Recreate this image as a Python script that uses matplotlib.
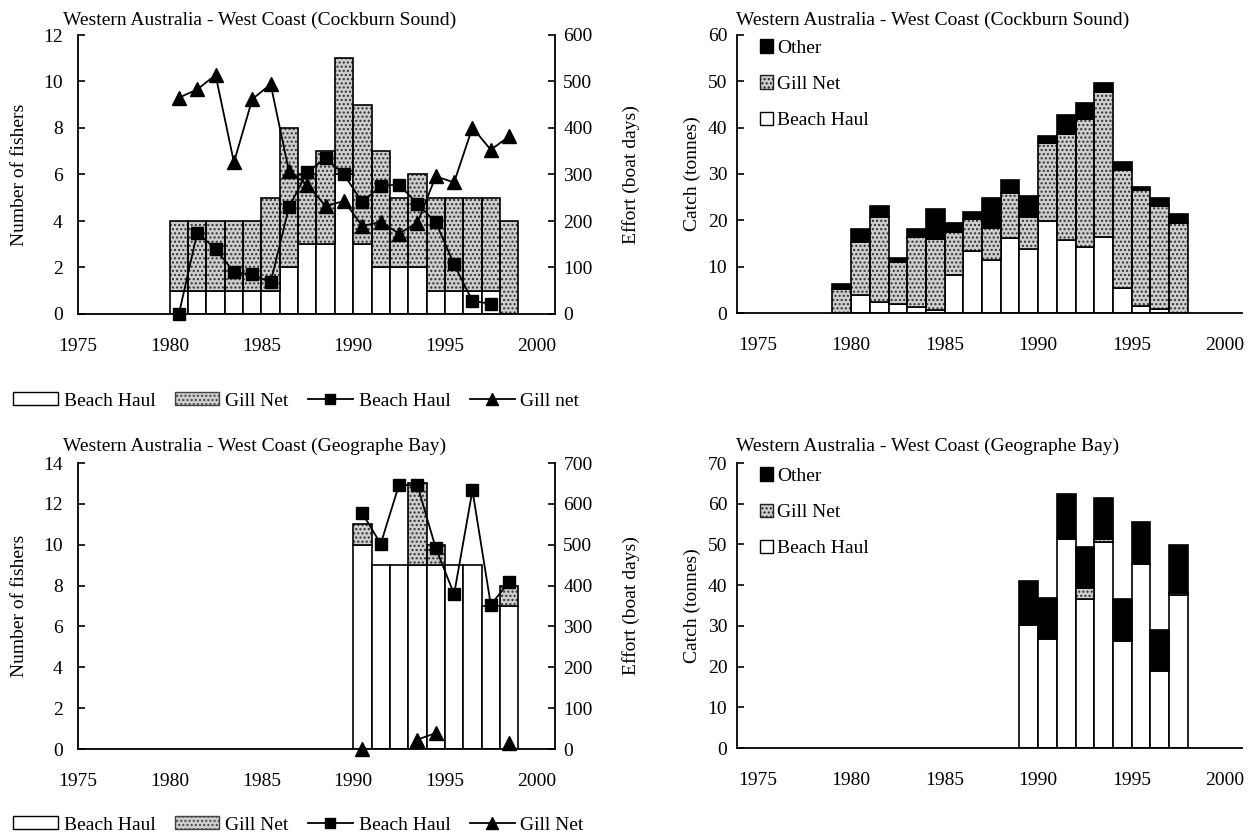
import numpy as np
import matplotlib
matplotlib.use("Agg")
import matplotlib.pyplot as plt
from matplotlib.patches import Patch
from matplotlib.lines import Line2D

plt.rcParams['font.family'] = ['Liberation Serif', 'DejaVu Serif']
plt.rcParams['font.size'] = 14
plt.rcParams['hatch.linewidth'] = 1.0

nan = np.nan

# ---- Cockburn Sound ----
cs_years = np.arange(1980, 1999)
cs_fishers_beach = [1, 1, 1, 1, 1, 1, 2, 3, 3, 6, 3, 2, 2, 2, 1, 1, 1, 1, 0]
cs_fishers_gill = [3, 3, 3, 3, 3, 4, 6, 3, 4, 5, 6, 5, 3, 4, 4, 4, 4, 4, 4]
cs_effort_beach = [0, 175, 140, 90, 85, 68, 230, 305, 335, 300, 240, 276, 278,
                   237, 197, 107, 28, 22, nan]
cs_effort_gill = [465, 483, 514, 326, 462, 494, 307, 278, 232, 243, 189, 198, 173,
                  196, 296, 283, 401, 353, 382]
cs_catch_beach = [0, 3.9, 2.3, 2.0, 1.4, 0.7, 8.3, 13.3, 11.4, 16.2, 13.8, 19.9,
                  15.8, 14.2, 16.5, 5.4, 1.6, 0.9, 0]
cs_catch_gill = [5.2, 11.5, 18.4, 9.1, 15.0, 15.2, 9.1, 7.0, 6.9, 9.8, 6.9, 16.7,
                 22.8, 27.6, 31.1, 25.5, 25.0, 22.1, 19.4]
cs_catch_other = [1.1, 2.8, 2.5, 0.8, 1.8, 6.6, 2.0, 1.6, 6.5, 2.7, 4.6, 1.5,
                  4.1, 3.6, 2.1, 1.6, 0.6, 1.9, 1.9]

# ---- Geographe Bay ----
gb_years = np.arange(1990, 1999)
gb_fishers_beach = [10, 9, 9, 9, 9, 9, 9, 7, 7]
gb_fishers_gill = [1, 0, 0, 4, 1, 0, 0, 0, 1]
gb_effort_beach = [577, 502, 647, 645, 492, 379, 633, 353, 409]
gb_effort_gill = [0, nan, nan, 23, 39, nan, nan, nan, 15]
gb_catch_beach = [30.2, 26.8, 51.4, 36.7, 50.6, 26.4, 45.3, 18.9, 37.5]
gb_catch_gill = [0, 0, 0, 2.5, 0.8, 0, 0, 0, 0.6]
gb_catch_other = [10.8, 10.1, 10.9, 10.2, 9.9, 10.1, 10.2, 10.0, 11.7]

year_ticks = [1975, 1980, 1985, 1990, 1995, 2000]

title_cs = "Western Australia - West Coast (Cockburn Sound)"
title_gb = "Western Australia - West Coast (Geographe Bay)"

STIP_FACE = '#cdcdcd'
STIP_DOT = '#2e2e2e'
EDGE_W = 1.2


def draw_segments(ax, left, heights, bottoms, kind):
    left = np.asarray(left, float)
    heights = np.asarray(heights, float)
    bottoms = np.asarray(bottoms, float)
    m = heights > 0
    if not m.any():
        return
    x, h, b = left[m], heights[m], bottoms[m]
    if kind == 'white':
        ax.bar(x, h, width=1.0, bottom=b, align='edge', facecolor='white',
               edgecolor='black', linewidth=EDGE_W, zorder=2)
    elif kind == 'black':
        ax.bar(x, h, width=1.0, bottom=b, align='edge', facecolor='black',
               edgecolor='black', linewidth=EDGE_W, zorder=2)
    else:
        ax.bar(x, h, width=1.0, bottom=b, align='edge', facecolor=STIP_FACE,
               edgecolor=STIP_DOT, hatch='....', linewidth=0, zorder=2)
        ax.bar(x, h, width=1.0, bottom=b, align='edge', fill=False,
               edgecolor='black', linewidth=EDGE_W, zorder=3)


def style_xaxis(ax, xlim):
    ax.set_xlim(*xlim)
    ax.set_xticks(year_ticks)
    ax.tick_params(axis='x', length=0, pad=17)
    ax.spines['top'].set_visible(False)
    ax.spines['bottom'].set_linewidth(1.3)
    ax.spines['left'].set_linewidth(1.3)


def effort_panel(ax, years, f_beach, f_gill, e_beach, e_gill, ymax, emax):
    draw_segments(ax, years, f_beach, np.zeros(len(years)), 'white')
    draw_segments(ax, years, f_gill, f_beach, 'stipple')
    style_xaxis(ax, (1975, 2001))
    ax.spines['right'].set_visible(False)
    ax.set_ylim(0, ymax)
    ax.set_yticks(np.arange(0, ymax + 1, 2))
    ax.tick_params(axis='y', direction='in', length=5, pad=11, width=1.2)
    ax.set_ylabel("Number of fishers")
    ax.yaxis.set_label_coords(-0.105, 0.5)

    ax2 = ax.twinx()
    ax2.set_ylim(0, emax)
    ax2.set_yticks(np.arange(0, emax + 1, 100))
    ax2.tick_params(axis='y', direction='in', length=5, pad=6, width=1.2)
    ax2.spines['top'].set_visible(False)
    ax2.spines['left'].set_visible(False)
    ax2.spines['bottom'].set_visible(False)
    ax2.spines['right'].set_linewidth(1.3)
    xc = np.asarray(years, float) + 0.5
    ax2.plot(xc, e_beach, color='black', lw=1.3, marker='s', ms=8.5,
             clip_on=False, zorder=5)
    ax2.plot(xc, e_gill, color='black', lw=1.3, marker='^', ms=9.5,
             clip_on=False, zorder=5)
    ax2.set_ylabel("Effort (boat days)")
    ax2.yaxis.set_label_coords(1.14, 0.5)
    return ax2


def catch_panel(ax, years, c_beach, c_gill, c_other, ymax):
    left = np.asarray(years, float) - 1.0
    b = np.asarray(c_beach, float)
    g = np.asarray(c_gill, float)
    o = np.asarray(c_other, float)
    draw_segments(ax, left, b, np.zeros(len(b)), 'white')
    draw_segments(ax, left, g, b, 'stipple')
    draw_segments(ax, left, o, b + g, 'black')
    style_xaxis(ax, (1973.9, 2000.9))
    ax.spines['right'].set_visible(False)
    ax.set_ylim(0, ymax)
    ax.set_yticks(np.arange(0, ymax + 1, 10))
    ax.tick_params(axis='y', direction='in', length=5, pad=7, width=1.2)
    ax.set_ylabel("Catch (tonnes)")
    ax.yaxis.set_label_coords(-0.071, 0.5)
    handles = [Patch(facecolor='black', edgecolor='black', lw=1.0),
               Patch(facecolor=STIP_FACE, edgecolor='#222222', hatch='....', lw=1.0),
               Patch(facecolor='white', edgecolor='black', lw=1.0)]
    ax.legend(handles, ["Other", "Gill Net", "Beach Haul"], loc='upper left',
              bbox_to_anchor=(0.045, 0.985), frameon=False, borderaxespad=0,
              borderpad=0, handlelength=0.7, handleheight=0.7,
              handletextpad=0.2, labelspacing=0.96)


W, H = 1248, 838
fig = plt.figure(figsize=(W / 100, H / 100), dpi=100)


def px_axes(x0, x1, ytop, ybot):
    return fig.add_axes([x0 / W, 1 - ybot / H, (x1 - x0) / W, (ybot - ytop) / H])


ax_tl = px_axes(78, 555, 35, 314)
ax_tr = px_axes(737, 1242, 35, 313)
ax_bl = px_axes(78, 555, 463, 749)
ax_br = px_axes(737, 1242, 463, 748)

effort_panel(ax_tl, cs_years, cs_fishers_beach, cs_fishers_gill,
             cs_effort_beach, cs_effort_gill, 12, 600)
effort_panel(ax_bl, gb_years, gb_fishers_beach, gb_fishers_gill,
             gb_effort_beach, gb_effort_gill, 14, 700)
catch_panel(ax_tr, cs_years, cs_catch_beach, cs_catch_gill, cs_catch_other, 60)
catch_panel(ax_br, gb_years, gb_catch_beach, gb_catch_gill, gb_catch_other, 70)

fig.text(63 / W, 1 - 20 / H, title_cs, ha='left', va='center')
fig.text(736 / W, 1 - 20 / H, title_cs, ha='left', va='center')
fig.text(63 / W, 1 - 446 / H, title_gb, ha='left', va='center')
fig.text(736 / W, 1 - 446 / H, title_gb, ha='left', va='center')


def row_legend(ycenter, gill_line_label):
    handles = [Patch(facecolor='white', edgecolor='black', lw=1.0),
               Patch(facecolor=STIP_FACE, edgecolor='#444444', hatch='....', lw=1.0),
               Line2D([], [], color='black', lw=1.3, marker='s', ms=7),
               Line2D([], [], color='black', lw=1.3, marker='^', ms=8)]
    labels = ["Beach Haul", "Gill Net", "Beach Haul", gill_line_label]
    fig.legend(handles, labels, ncol=4, loc='center left',
               bbox_to_anchor=(13 / W, 1 - ycenter / H), frameon=False,
               borderaxespad=0, borderpad=0, handlelength=2.3,
               handleheight=0.65, handletextpad=0.3, columnspacing=1.0)


row_legend(401, "Gill net")
row_legend(825, "Gill Net")

fig.savefig("out.png", dpi=100)
